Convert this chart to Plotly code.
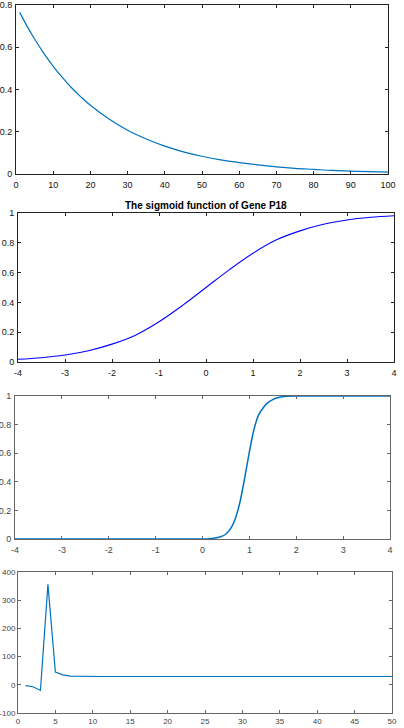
import plotly.graph_objects as go

# Panel 1: decay curve
p1_x = [1, 3, 5, 7.5, 10, 12.5, 15, 17.5, 20, 25, 30, 35, 40, 45, 50, 55, 60, 65, 70, 75, 80, 85, 90, 95, 100]
p1_y = [0.765, 0.699, 0.639, 0.571, 0.510, 0.456, 0.407, 0.364, 0.325, 0.260, 0.207, 0.166, 0.132,
        0.105, 0.084, 0.067, 0.054, 0.043, 0.034, 0.027, 0.022, 0.017, 0.014, 0.011, 0.009]

# Panel 2: sigmoid of Gene P18
p2_x = [-4, -3.5, -3, -2.5, -2, -1.5, -1, -0.5, 0, 0.5, 1, 1.5, 2, 2.5, 3, 3.5, 4]
p2_y = [0.018, 0.029, 0.047, 0.076, 0.12, 0.18, 0.27, 0.38, 0.5, 0.62, 0.73,
        0.82, 0.88, 0.924, 0.953, 0.971, 0.982]
p2_title = "The sigmoid function of Gene P18"

# Panel 3: steep sigmoid
p3_x = [-4, -2, 0, 0.2, 0.4, 0.5, 0.6, 0.7, 0.8, 0.9, 1.0, 1.1, 1.2, 1.3, 1.4,
        1.5, 1.6, 1.7, 1.8, 2.0, 3, 4]
p3_y = [0, 0, 0.0005, 0.004, 0.017, 0.035, 0.072, 0.142, 0.259, 0.426, 0.61,
        0.769, 0.87, 0.92, 0.955, 0.975, 0.988, 0.995, 0.998, 1.0, 1.0, 1.0]

# Panel 4: spike series
p4_x = list(range(1, 51))
p4_y = [-3, -7, -20, 356, 45, 35, 31, 30, 29.5] + [29.5] * 41

# Tick labels (MATLAB style, hyphen minus)
sig_ticks = [-4, -3, -2, -1, 0, 1, 2, 3, 4]
sig_labels = ["-4", "-3", "-2", "-1", "0", "1", "2", "3", "4"]
p4_yticks = [-100, 0, 100, 200, 300, 400]
p4_ylabels = ["-100", "0", "100", "200", "300", "400"]

fig = go.Figure()
fig.add_trace(go.Scatter(x=p1_x, y=p1_y, mode="lines", line=dict(color="#0072BD", width=1.2, shape="spline"),
                         xaxis="x", yaxis="y"))
fig.add_trace(go.Scatter(x=p2_x, y=p2_y, mode="lines", line=dict(color="#0000FF", width=1.1, shape="spline"),
                         xaxis="x2", yaxis="y2"))
fig.add_trace(go.Scatter(x=p3_x, y=p3_y, mode="lines", line=dict(color="#0072BD", width=1.5, shape="spline", smoothing=0.6),
                         xaxis="x3", yaxis="y3"))
fig.add_trace(go.Scatter(x=p4_x, y=p4_y, mode="lines", line=dict(color="#0072BD", width=1.2),
                         xaxis="x4", yaxis="y4"))

W, H = 404, 728

def xd(l, r):
    return [l / W, r / W]

def yd(t, b):
    return [1 - b / H, 1 - t / H]

dark = dict(family="Liberation Sans Narrow, Liberation Sans, Arial", size=9, color="#111111")
gray = dict(family="Liberation Sans, Arial", size=9, color="#444444")
gray_small = dict(family="Liberation Sans, Arial", size=8, color="#444444")

def ax(domain, rng, dtick, anchor, font, lc, vals=None, texts=None, standoff=2):
    d = dict(domain=domain, range=rng, dtick=dtick, anchor=anchor, showgrid=False, zeroline=False,
             showline=True, linecolor=lc, linewidth=1, mirror="ticks", ticks="inside",
             ticklen=3, tickcolor=lc, tickfont=font, fixedrange=True, ticklabelstandoff=standoff,
             automargin=False)
    if vals is not None:
        d["tickmode"] = "array"
        d["tickvals"] = vals
        d["ticktext"] = texts
    return d

fig.update_layout(
    template="none",
    width=W, height=H, margin=dict(l=0, r=0, t=0, b=0, pad=0),
    paper_bgcolor="white", plot_bgcolor="white", showlegend=False,
    xaxis=ax(xd(16, 388), [0, 100], 10, "y", dark, "#222222"),
    yaxis=ax(yd(5, 174), [0, 0.8], 0.2, "x", dark, "#222222", standoff=1),
    xaxis2=ax(xd(18, 394), [-4, 4], 1, "y2", dark, "#222222", sig_ticks, sig_labels),
    yaxis2=ax(yd(213, 362), [0, 1], 0.2, "x2", dark, "#222222", standoff=1),
    xaxis3=ax(xd(15, 390), [-4, 4], 1, "y3", gray, "#666666", sig_ticks, sig_labels),
    yaxis3=ax(yd(396, 539), [0, 1], 0.2, "x3", gray, "#666666", standoff=1),
    xaxis4=ax(xd(18, 392), [0, 50], 5, "y4", gray_small, "#666666", standoff=0),
    yaxis4=ax(yd(572, 713), [-100, 400], 100, "x4", gray_small, "#666666", p4_yticks, p4_ylabels, standoff=0),
    annotations=[dict(text="<b>" + p2_title + "</b>", x=(18 + 394) / 2 / W, y=1 - 205 / H,
                      xref="paper", yref="paper", showarrow=False, xanchor="center", yanchor="middle",
                      font=dict(family="Liberation Sans Narrow, Liberation Sans, Arial", size=10, color="#000000"))],
)

fig.write_html("out.html")
